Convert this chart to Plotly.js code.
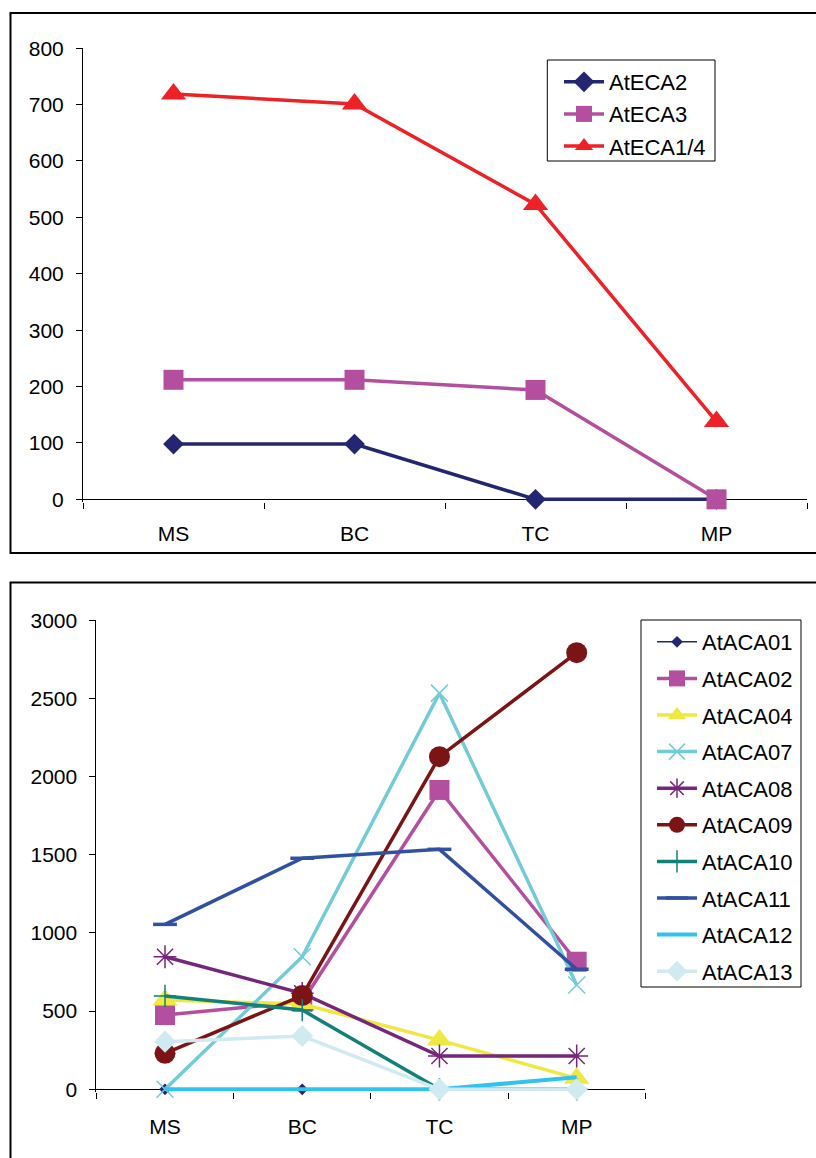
<!DOCTYPE html>
<html>
<head>
<meta charset="utf-8">
<script src="https://cdn.plot.ly/plotly-3.0.1.min.js"></script>
<style>html,body{margin:0;padding:0;background:#fff;}#chart{width:816px;height:1158px;}</style>
</head>
<body>
<div id="chart"></div>
<script>
// ---- data ----
const stages = ['MS', 'BC', 'TC', 'MP'];

// top chart (ECA)
const AtECA2  = [98, 98, 0, 0];
const AtECA3  = [212, 212, 194, 0];
const AtECA14 = [719, 701, 523, 138];

// bottom chart (ACA)
const AtACA01 = [0, 0, 0, 0];
const AtACA02 = [475, 560, 1915, 816];
const AtACA04 = [571, 546, 315, 70];
const AtACA07 = [0, 848, 2534, 667];
const AtACA08 = [848, 614, 213, 213];
const AtACA09 = [230, 600, 2128, 2793];
const AtACA10 = [597, 507, 0, 0];
const AtACA11 = [1055, 1478, 1535, 768];
const AtACA12 = [0, 0, 0, 77];
const AtACA13 = [305, 341, 0, 0];

const FONT = 'Liberation Sans, Arial, sans-serif';

function tr(name, y, color, lw, symbol, size, axes, legend, thin) {
  const t = {
    type: 'scatter', mode: symbol ? 'lines+markers' : 'lines',
    name: name, x: stages, y: y,
    xaxis: axes[0], yaxis: axes[1], legend: legend, legendgroup: name,
    line: {color: color, width: lw},
    cliponaxis: false
  };
  if (symbol) {
    t.marker = {symbol: symbol, size: size, color: color,
                line: {color: color, width: thin ? thin : 0}};
  }
  return t;
}

const A1 = ['x', 'y'], A2 = ['x2', 'y2'];
const data = [
  tr('AtECA2', AtECA2, '#232670', 3.5, 'diamond', 16, A1, 'legend'),
  tr('AtECA3', AtECA3, '#b44fa0', 3.5, 'square', 20, A1, 'legend'),
  tr('AtECA1/4', AtECA14, '#ee2226', 3.5, 'triangle-up', 22, A1, 'legend'),

  tr('AtACA01', AtACA01, '#232670', 1.5, 'diamond', 9, A2, 'legend2'),
  tr('AtACA02', AtACA02, '#b44fa0', 3.5, 'square', 20, A2, 'legend2'),
  tr('AtACA04', AtACA04, '#eee841', 3.5, 'triangle-up', 22, A2, 'legend2'),
  tr('AtACA07', AtACA07, '#72ccd8', 3.5, 'x-thin', 17, A2, 'legend2', 1.5),
  tr('AtACA08', AtACA08, '#76267c', 3.5, 'asterisk', 19, A2, 'legend2', 1.5),
  tr('AtACA09', AtACA09, '#7b1515', 3.5, 'circle', 21, A2, 'legend2'),
  tr('AtACA10', AtACA10, '#13807a', 3.5, 'cross-thin', 16, A2, 'legend2', 1.5),
  tr('AtACA11', AtACA11, '#3050a2', 3.5, 'line-ew', 17, A2, 'legend2', 3.5),
  tr('AtACA12', AtACA12, '#30c3f0', 4, null, 0, A2, 'legend2'),
  tr('AtACA13', AtACA13, '#cfeaf0', 3.5, 'diamond', 17, A2, 'legend2')
];

const W = 816, H = 1158;
const px = v => v / W, py = v => 1 - v / H;

const xCommon = {
  type: 'category', categoryorder: 'array', categoryarray: stages,
  range: [-0.5, 3.5], tickson: 'boundaries', ticks: 'outside', ticklen: 6,
  tickcolor: '#000', tickwidth: 1, showline: false,
  showgrid: false, zeroline: false, fixedrange: true,
  tickfont: {family: FONT, size: 21, color: '#000'}
};
const yCommon = {
  ticks: 'outside', ticklen: 6, tickcolor: '#000', tickwidth: 1,
  showline: true, linecolor: '#000', linewidth: 1, showgrid: false,
  zeroline: true, zerolinecolor: '#000', zerolinewidth: 1,
  tickfont: {family: FONT, size: 21, color: '#000'}, ticklabelstandoff: 8, fixedrange: true
};

// top: 0.5639 px per unit, bottom: 0.15633 px per unit
const layout = {
  width: W, height: H, margin: {l: 0, r: 0, t: 0, b: 0},
  paper_bgcolor: '#fff', plot_bgcolor: 'rgba(0,0,0,0)',
  font: {family: FONT, size: 21, color: '#000'},
  showlegend: true,
  xaxis: Object.assign({}, xCommon, {domain: [px(83), px(807)], anchor: 'y', ticklabelstandoff: 17}),
  yaxis: Object.assign({}, yCommon, {domain: [py(501.6), py(48.2)], range: [-4, 800], dtick: 100, tick0: 0, anchor: 'x'}),
  xaxis2: Object.assign({}, xCommon, {domain: [px(96.4), px(645.3)], anchor: 'y2', ticklabelstandoff: 20}),
  yaxis2: Object.assign({}, yCommon, {domain: [py(1091.5), py(620.3)], range: [-14, 3000], dtick: 500, tick0: 0, anchor: 'x2'}),
  legend: {
    x: px(559), y: py(61), xanchor: 'left', yanchor: 'top',
    bgcolor: 'rgba(0,0,0,0)', borderwidth: 0, tracegroupgap: 0.5,
    font: {family: FONT, size: 22, color: '#000'}, itemwidth: 40
  },
  legend2: {
    x: px(652), y: py(621), xanchor: 'left', yanchor: 'top',
    bgcolor: 'rgba(0,0,0,0)', borderwidth: 0, tracegroupgap: 5,
    font: {family: FONT, size: 22, color: '#000'}, itemwidth: 40
  },
  shapes: [
    {type: 'rect', xref: 'paper', yref: 'paper', x0: px(10.5), x1: 1.02, y0: py(553), y1: py(13),
     line: {color: '#000', width: 2}, fillcolor: 'rgba(0,0,0,0)', layer: 'below'},
    {type: 'rect', xref: 'paper', yref: 'paper', x0: px(10.5), x1: 1.02, y0: -0.02, y1: py(582.5),
     line: {color: '#000', width: 2}, fillcolor: 'rgba(0,0,0,0)', layer: 'below'},
    {type: 'rect', xref: 'paper', yref: 'paper', x0: px(547.3), x1: px(715), y0: py(161), y1: py(60),
     line: {color: '#000', width: 1}, fillcolor: 'rgba(0,0,0,0)', layer: 'below'},
    {type: 'rect', xref: 'paper', yref: 'paper', x0: px(641), x1: px(801), y0: py(987), y1: py(620),
     line: {color: '#000', width: 1}, fillcolor: 'rgba(0,0,0,0)', layer: 'below'}
  ]
};

Plotly.newPlot('chart', data, layout, {displayModeBar: false, staticPlot: true});
</script>
</body>
</html>
